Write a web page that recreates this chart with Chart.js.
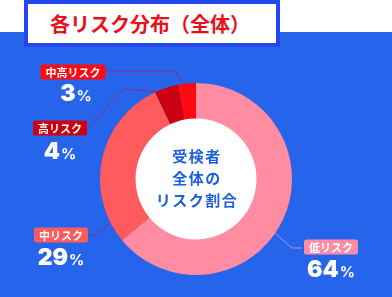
<!DOCTYPE html>
<html lang="ja">
<head>
<meta charset="utf-8">
<script src="https://cdn.jsdelivr.net/npm/chart.js@4/dist/chart.umd.min.js"></script>
<style>
  html, body { margin: 0; padding: 0; }
  body { width: 392px; height: 297px; position: relative; overflow: hidden; background: #fff; font-family: "Noto Sans CJK JP", sans-serif; }
  #band { position: absolute; left: 0; top: 32px; width: 392px; height: 265px; background: #2764ec; }
  #title { position: absolute; left: 24px; top: 0; width: 248px; height: 39px; background: #fff; border: 4px solid #2447f0; box-sizing: content-box; }
  #title span { position: absolute; left: 22px; top: 5px; font-size: 20px; font-weight: 700; color: #e8101c; white-space: nowrap; }
  #wrap { position: absolute; left: 0; top: 0; width: 392px; height: 297px; }
</style>
</head>
<body>
<div id="band"></div>
<div id="title"><span>各リスク分布（全体）</span></div>
<div id="wrap"><canvas id="riskChart"></canvas></div>
<script>
(function(){
    // data, clockwise from 12 o'clock
    const categories = ['低リスク', '中リスク', '高リスク', '中高リスク'];
    const shares = [64, 29, 4, 3];
    const colors = ['#ff8ca0', '#ff5a5c', '#cc0012', '#ff0a10'];
    const centerLines = ['受検者', '全体の', 'リスク割合'];

    // label placement (layout only): box center, number center, elbow point, anchor position inside slice
    const labelLayout = [
        { box: [331, 247], num: [331, 269], elbow: [292, 248], boxEdge: [302, 248], at: 0.54 },
        { box: [61, 235],  num: [61, 257],  elbow: [95, 235],  boxEdge: [90, 235],  at: 0.12 },
        { box: [60, 128],  num: [60, 151],  elbow: [123, 89],  boxEdge: [89, 127],  at: 0.05 },
        { box: [73, 72],   num: [76, 93],   elbow: [175, 71],  boxEdge: [101, 71],  at: 0.34 }
    ];

    function roundRect(c, x, y, w, h, r) {
        c.beginPath();
        c.moveTo(x + r, y);
        c.arcTo(x + w, y, x + w, y + h, r);
        c.arcTo(x + w, y + h, x, y + h, r);
        c.arcTo(x, y + h, x, y, r);
        c.arcTo(x, y, x + w, y, r);
        c.closePath();
    }

    const labelsPlugin = {
        id: 'riskLabels',
        beforeDatasetsDraw(chart) {
            const arc = chart.getDatasetMeta(0).data[0];
            if (!arc) return;
            const c = chart.ctx;
            c.save();
            c.fillStyle = '#ffffff';
            c.beginPath();
            c.arc(arc.x, arc.y, arc.innerRadius + 1, 0, Math.PI * 2);
            c.fill();
            c.restore();
        },
        afterDatasetsDraw(chart) {
            const meta = chart.getDatasetMeta(0);
            const c = chart.ctx;
            c.save();
            // leader lines
            meta.data.forEach((a, i) => {
                const L = labelLayout[i];
                const ang = a.startAngle + (a.endAngle - a.startAngle) * L.at;
                const ax = a.x + Math.cos(ang) * a.outerRadius;
                const ay = a.y + Math.sin(ang) * a.outerRadius;
                c.strokeStyle = i === 0 ? 'rgba(190,150,220,0.9)' : 'rgba(150,40,110,0.85)';
                c.lineWidth = 1;
                c.beginPath();
                c.moveTo(L.boxEdge[0], L.boxEdge[1]);
                c.lineTo(L.elbow[0], L.elbow[1]);
                c.lineTo(ax, ay);
                c.stroke();
            });
            // label boxes and values
            meta.data.forEach((a, i) => {
                const L = labelLayout[i];
                c.font = '700 11px "Noto Sans CJK JP"';
                const tw = c.measureText(categories[i]).width;
                const bw = tw + 10, bh = 15;
                c.fillStyle = colors[i];
                roundRect(c, L.box[0] - bw / 2, L.box[1] - bh / 2, bw, bh, 2.5);
                c.fill();
                c.fillStyle = '#ffffff';
                c.textAlign = 'center';
                c.textBaseline = 'middle';
                c.fillText(categories[i], L.box[0], L.box[1] + 0.5);

                const numTxt = String(shares[i]);
                const numFont = '900 23px Inter, Lato, sans-serif';
                const pctFont = '700 15px Inter, Lato, sans-serif';
                c.font = numFont;
                const nw = c.measureText(numTxt).width;
                c.font = pctFont;
                const pw = c.measureText('%').width;
                const x0 = L.num[0] - (nw + pw + 1) / 2;
                c.textAlign = 'left';
                c.textBaseline = 'alphabetic';
                c.font = numFont;
                c.fillText(numTxt, x0, L.num[1] + 8);
                c.font = pctFont;
                c.fillText('%', x0 + nw + 1, L.num[1] + 8);
            });
            // center text
            const a0 = meta.data[0];
            c.fillStyle = '#1a5fe0';
            c.font = '700 15px "Noto Sans CJK JP"';
            c.textAlign = 'center';
            c.textBaseline = 'middle';
            if ('letterSpacing' in c) c.letterSpacing = '1.5px';
            centerLines.forEach((t, k) => {
                c.fillText(t, a0.x + 1, a0.y - 23 + k * 22);
            });
            c.restore();
        }
    };

    try {
        const ctx = document.getElementById('riskChart');
        new Chart(ctx, {
            type: 'doughnut',
            data: {
                labels: categories,
                datasets: [{
                    data: shares,
                    backgroundColor: colors,
                    borderWidth: 0
                }]
            },
            options: {
                responsive: true,
                maintainAspectRatio: false,
                animation: false,
                cutout: '63%',
                layout: { padding: { left: 100, right: 100, top: 83, bottom: 22 } },
                plugins: {
                    legend: { display: false },
                    tooltip: { enabled: false }
                }
            },
            plugins: [labelsPlugin]
        });
    } catch (err) {
        console.error('chart init error', err);
    }
})();
</script>
</body>
</html>
